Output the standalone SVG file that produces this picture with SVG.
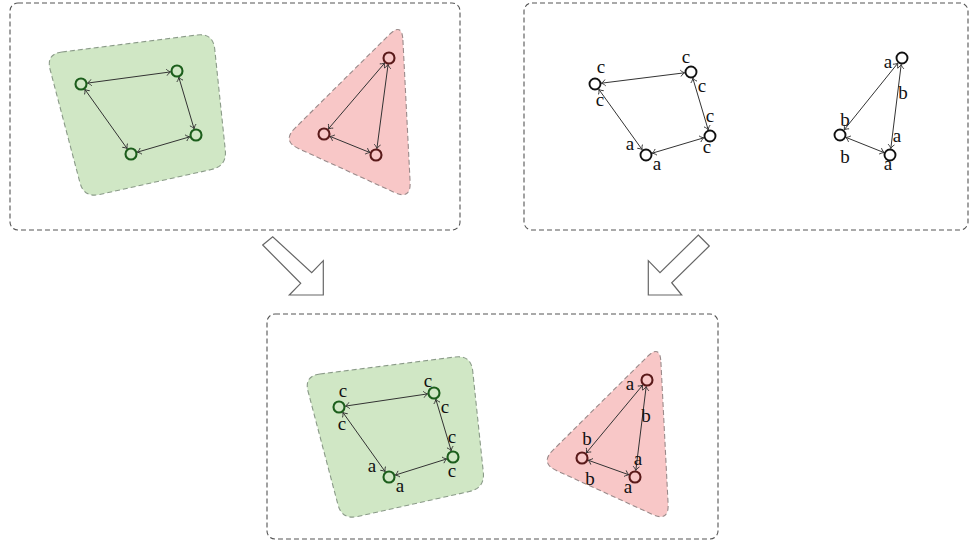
<svg xmlns="http://www.w3.org/2000/svg" width="971" height="544" viewBox="0 0 971 544">
<style>
.box{fill:none;stroke:#555;stroke-width:1.1;stroke-dasharray:5,3}
.gblob{fill:#d0e7c5;stroke:#8a9a88;stroke-width:1.1;stroke-dasharray:5,3}
.rblob{fill:#f8c7c7;stroke:#9a8a8a;stroke-width:1.1;stroke-dasharray:5,3}
.edge{fill:none;stroke:#333;stroke-width:1;marker-start:url(#tip);marker-end:url(#tip)}
.gn{fill:none;stroke:#1c5e1c;stroke-width:2.1}
.rn{fill:none;stroke:#5a1a1a;stroke-width:2.1}
.kn{fill:#fff;stroke:#111;stroke-width:1.9}
.lbl{font-family:"Liberation Serif","DejaVu Serif",serif;font-size:19px;fill:#111;text-anchor:middle}
.blk{fill:#fff;stroke:#666;stroke-width:1.2;stroke-linejoin:miter}
</style>
<defs>
<marker id="tip" viewBox="-6 -5 8 10" markerWidth="8" markerHeight="10" refX="0" refY="0" orient="auto-start-reverse" markerUnits="userSpaceOnUse">
<path d="M-4,-3.2 C-2.5,-1.2 -0.6,-0.3 0,0 C-0.6,0.3 -2.5,1.2 -4,3.2" fill="none" stroke="#333" stroke-width="0.9"/>
</marker>
<path id="gshape" d="M61.9,52 L197.1,35 Q213,33 214.7,48.9 L225.3,150.1 Q227,166 211.4,169.5 L99.6,194.5 Q84,198 79.9,182.5 L50.1,69.5 Q46,54 61.9,52 Z"/>
<path id="rshape" d="M402.9,40 L410.1,182 Q411,200 394.6,192.5 L298.4,148.5 Q282,141 294.8,128.3 L389.2,34.7 Q402,22 402.9,40 Z"/>
</defs>

<g id="frames">
<rect id="box-top-left" class="box" x="10" y="3" width="450" height="227" rx="8"/>
<rect id="box-top-right" class="box" x="524" y="3" width="444" height="227" rx="8"/>
<rect id="box-bottom" class="box" x="267" y="314" width="451" height="225" rx="8"/>
</g>

<g id="blobs">
<use href="#gshape" class="gblob"/>
<use href="#rshape" class="rblob"/>
<use href="#gshape" class="gblob" transform="translate(258,322)"/>
<use href="#rshape" class="rblob" transform="translate(258,322)"/>
</g>

<g id="block-arrows">
<polygon id="arrow-left" class="blk" points="262.7,245 272.7,236.7 311.7,272.7 323.3,260.7 323.3,295 289.3,295 300.7,283.3"/>
<polygon id="arrow-right" class="blk" points="698.3,235 709.3,246 671.7,282.7 681.7,295 648.3,295 648.3,260.7 660,272.7"/>
</g>

<g id="connectors">
<line class="edge" x1="87.4" y1="83.1" x2="170.6" y2="71.9"/>
<line class="edge" x1="178.8" y1="77.2" x2="194.1" y2="128.8"/>
<line class="edge" x1="189.8" y1="136.8" x2="137.2" y2="152.2"/>
<line class="edge" x1="127.2" y1="148.7" x2="84.8" y2="89.3"/>

<line class="edge" x1="384.8" y1="62.9" x2="328.2" y2="129.1"/>
<line class="edge" x1="330" y1="136.4" x2="370" y2="152.6"/>
<line class="edge" x1="376.9" y1="148.6" x2="388.1" y2="64.4"/>

<line class="edge" x1="601.4" y1="83.2" x2="684.6" y2="72.8"/>
<line class="edge" x1="692.8" y1="78.2" x2="708.2" y2="129.8"/>
<line class="edge" x1="703.8" y1="137.8" x2="652.2" y2="153.2"/>
<line class="edge" x1="642.2" y1="149.7" x2="598.8" y2="89.3"/>

<line class="edge" x1="897.9" y1="63.1" x2="844.1" y2="129.9"/>
<line class="edge" x1="846" y1="137.4" x2="884" y2="152.6"/>
<line class="edge" x1="890.8" y1="148.5" x2="901.2" y2="64.5"/>

<line class="edge" x1="345.4" y1="406.1" x2="427.6" y2="393.9"/>
<line class="edge" x1="435.8" y1="399.2" x2="451.2" y2="450.8"/>
<line class="edge" x1="446.8" y1="458.9" x2="395.2" y2="475.1"/>
<line class="edge" x1="385.2" y1="471.7" x2="342.8" y2="412.3"/>

<line class="edge" x1="642.8" y1="385" x2="586.2" y2="453"/>
<line class="edge" x1="588.1" y1="460.2" x2="628.9" y2="474.8"/>
<line class="edge" x1="635.8" y1="470.5" x2="646.2" y2="386.5"/>
</g>

<g id="tl-green-nodes">
<circle id="tlg1" class="gn" cx="81" cy="84" r="5.5"/>
<circle id="tlg2" class="gn" cx="177" cy="71" r="5.5"/>
<circle id="tlg3" class="gn" cx="196" cy="135" r="5.5"/>
<circle id="tlg4" class="gn" cx="131" cy="154" r="5.5"/>
</g>
<g id="tl-red-nodes">
<circle id="tlr1" class="rn" cx="389" cy="58" r="5.5"/>
<circle id="tlr2" class="rn" cx="324" cy="134" r="5.5"/>
<circle id="tlr3" class="rn" cx="376" cy="155" r="5.5"/>
</g>

<g id="tr-quad-nodes">
<circle id="trq1" class="kn" cx="595" cy="84" r="5.5"/>
<circle id="trq2" class="kn" cx="691" cy="72" r="5.5"/>
<circle id="trq3" class="kn" cx="710" cy="136" r="5.5"/>
<circle id="trq4" class="kn" cx="646" cy="155" r="5.5"/>
<text class="lbl" x="601" y="73">c</text>
<text class="lbl" x="600" y="106">c</text>
<text class="lbl" x="686" y="63">c</text>
<text class="lbl" x="702" y="92">c</text>
<text class="lbl" x="710" y="122">c</text>
<text class="lbl" x="707" y="153">c</text>
<text class="lbl" x="630" y="150">a</text>
<text class="lbl" x="657" y="170">a</text>
</g>
<g id="tr-tri-nodes">
<circle id="trt1" class="kn" cx="902" cy="58" r="5.5"/>
<circle id="trt2" class="kn" cx="840" cy="135" r="5.5"/>
<circle id="trt3" class="kn" cx="890" cy="155" r="5.5"/>
<text class="lbl" x="888" y="68">a</text>
<text class="lbl" x="903" y="99">b</text>
<text class="lbl" x="845" y="126">b</text>
<text class="lbl" x="845" y="163">b</text>
<text class="lbl" x="897" y="142">a</text>
<text class="lbl" x="888" y="170">a</text>
</g>

<g id="b-green-nodes">
<circle id="bg1" class="gn" cx="339" cy="407" r="5.5"/>
<circle id="bg2" class="gn" cx="434" cy="393" r="5.5"/>
<circle id="bg3" class="gn" cx="453" cy="457" r="5.5"/>
<circle id="bg4" class="gn" cx="389" cy="477" r="5.5"/>
<text class="lbl" x="343" y="397">c</text>
<text class="lbl" x="342" y="430">c</text>
<text class="lbl" x="428" y="387">c</text>
<text class="lbl" x="445" y="413">c</text>
<text class="lbl" x="452" y="443">c</text>
<text class="lbl" x="452" y="477">c</text>
<text class="lbl" x="372" y="472">a</text>
<text class="lbl" x="400" y="492">a</text>
</g>
<g id="b-red-nodes">
<circle id="br1" class="rn" cx="647" cy="380" r="5.5"/>
<circle id="br2" class="rn" cx="582" cy="458" r="5.5"/>
<circle id="br3" class="rn" cx="635" cy="477" r="5.5"/>
<text class="lbl" x="630" y="390">a</text>
<text class="lbl" x="646" y="422">b</text>
<text class="lbl" x="587" y="445">b</text>
<text class="lbl" x="590" y="485">b</text>
<text class="lbl" x="638" y="465">a</text>
<text class="lbl" x="628" y="493">a</text>
</g>
</svg>
